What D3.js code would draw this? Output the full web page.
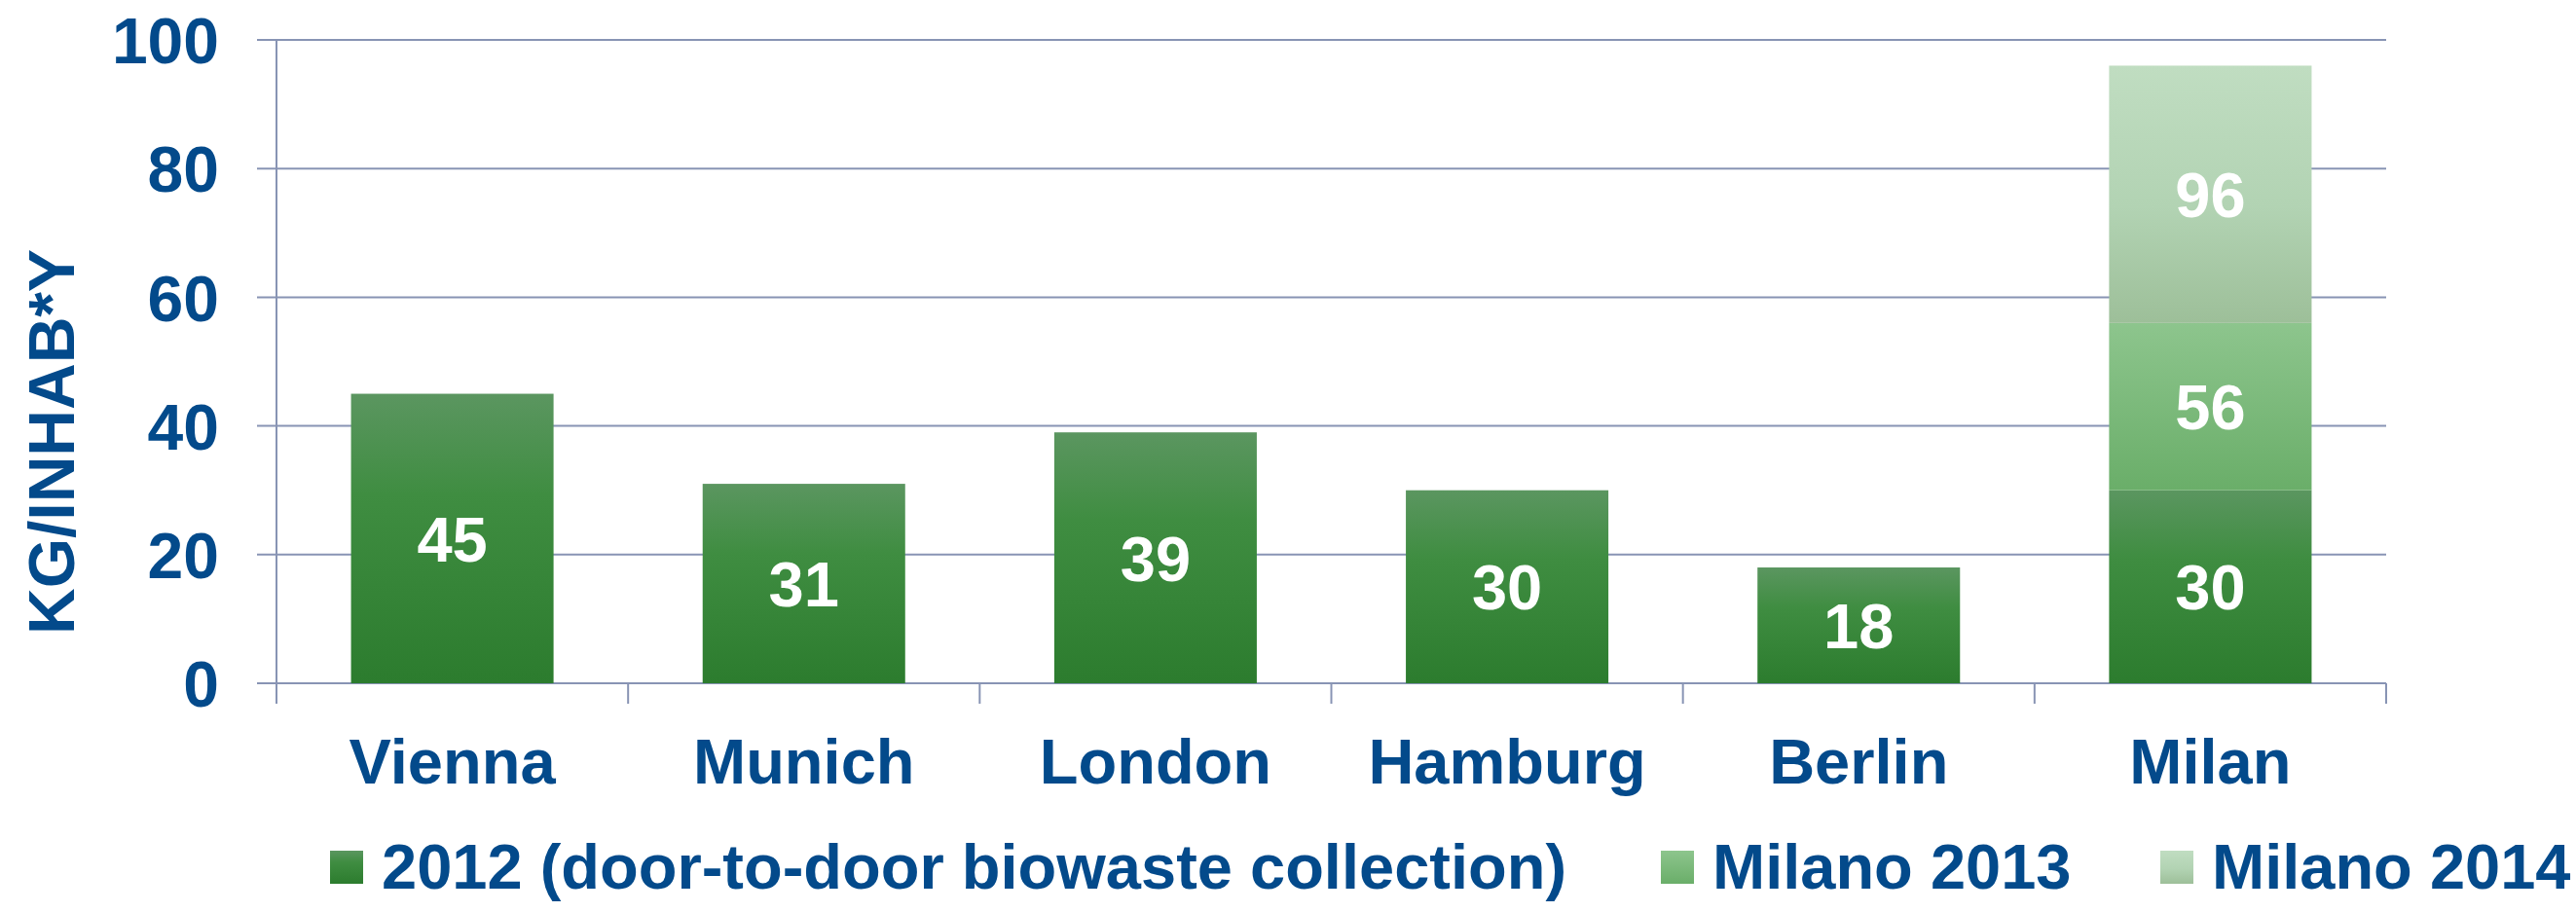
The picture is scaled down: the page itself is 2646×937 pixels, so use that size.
<!DOCTYPE html>
<html>
<head>
<meta charset="utf-8">
<script src="https://cdn.jsdelivr.net/npm/d3@7"></script>
<style>
  html, body { margin: 0; padding: 0; background: #ffffff; }
  svg { display: block; }
  text { font-family: "Liberation Sans", Arial, sans-serif; font-weight: bold; }
</style>
</head>
<body>
<svg id="chart" width="2646" height="937"></svg>
<script>
// Biowaste collected per inhabitant per year (kg)
const categories = ["Vienna", "Munich", "London", "Hamburg", "Berlin", "Milan"];
const series2012 = [45, 31, 39, 30, 18, 30];
const milano2013 = [null, null, null, null, null, 56];   // Milan total in 2013
const milano2014 = [null, null, null, null, null, 96];   // Milan total in 2014
const seriesNames = ["2012 (door-to-door biowaste collection)", "Milano 2013", "Milano 2014"];
const yTicks = [0, 20, 40, 60, 80, 100];
const yTitle = "KG/INHAB*Y";

const W = 2646, H = 937;
const textColor = "#034a8b";
const gridColor = "#8894b4";

const svg = d3.select("#chart");

// gradients per series (lighter at the top of each segment)
const gradStops = [
  [["0%", "#5b9660"], ["35%", "#3f8d41"], ["100%", "#2c7c2e"]],
  [["0%", "#8dc58d"], ["100%", "#6aae69"]],
  [["0%", "#c0ddc1"], ["55%", "#b2d3b3"], ["100%", "#9dbf99"]]
];
const defs = svg.append("defs");
gradStops.forEach((stops, i) => {
  const g = defs.append("linearGradient")
    .attr("id", "grad" + i)
    .attr("x1", 0).attr("y1", 0).attr("x2", 0).attr("y2", 1);
  stops.forEach(s => g.append("stop").attr("offset", s[0]).attr("stop-color", s[1]));
});

const plot = { left: 284, right: 2451, top: 41, bottom: 702 };

const x = d3.scaleBand()
  .domain(categories)
  .range([plot.left, plot.right])
  .paddingInner(0.424)
  .paddingOuter(0.212);

const y = d3.scaleLinear()
  .domain([0, 100])
  .range([plot.bottom, plot.top]);

// horizontal gridlines (extend past the axis as tick marks)
svg.append("g")
  .selectAll("line")
  .data(yTicks)
  .join("line")
  .attr("x1", plot.left - 20)
  .attr("x2", plot.right)
  .attr("y1", d => y(d))
  .attr("y2", d => y(d))
  .attr("stroke", gridColor)
  .attr("stroke-width", 2);

// y axis labels
const yAxis = d3.axisLeft(y).tickValues(yTicks).tickSize(20).tickPadding(39);
const yg = svg.append("g")
  .attr("transform", `translate(${plot.left},0)`)
  .call(yAxis);
yg.select(".domain").remove();
yg.selectAll(".tick line").remove();
yg.selectAll(".tick text")
  .attr("fill", textColor)
  .attr("font-size", 66)
  .attr("font-family", "Liberation Sans, Arial, sans-serif")
  .attr("font-weight", "bold")
  .attr("dy", "0.36em");

// vertical axis line
svg.append("line")
  .attr("x1", plot.left).attr("x2", plot.left)
  .attr("y1", plot.top).attr("y2", plot.bottom + 21)
  .attr("stroke", gridColor).attr("stroke-width", 2);

// category boundary ticks below the baseline
const boundaries = categories.map(c => x(c) - x.step() * x.paddingInner() / 2).slice(1)
  .concat([plot.right]);
svg.append("g")
  .selectAll("line")
  .data(boundaries)
  .join("line")
  .attr("x1", d => d).attr("x2", d => d)
  .attr("y1", plot.bottom).attr("y2", plot.bottom + 21)
  .attr("stroke", gridColor).attr("stroke-width", 2);

// stacked segments: each series value is the running total for that category
const seriesList = [series2012, milano2013, milano2014];
const segments = [];
categories.forEach((c, ci) => {
  let base = 0;
  seriesList.forEach((s, si) => {
    const v = s[ci];
    if (v == null) return;
    segments.push({ cat: c, series: si, y0: base, y1: v, label: v });
    base = v;
  });
});

svg.append("g")
  .selectAll("rect")
  .data(segments)
  .join("rect")
  .attr("x", d => x(d.cat))
  .attr("width", x.bandwidth())
  .attr("y", d => y(d.y1))
  .attr("height", d => y(d.y0) - y(d.y1))
  .attr("fill", d => `url(#grad${d.series})`);

svg.append("g")
  .selectAll("text")
  .data(segments)
  .join("text")
  .attr("x", d => x(d.cat) + x.bandwidth() / 2)
  .attr("y", d => (y(d.y0) + y(d.y1)) / 2)
  .attr("dy", "0.36em")
  .attr("text-anchor", "middle")
  .attr("fill", "#ffffff")
  .attr("font-size", 65)
  .text(d => d.label);

// category labels
svg.append("g")
  .selectAll("text")
  .data(categories)
  .join("text")
  .attr("x", d => x(d) + x.bandwidth() / 2)
  .attr("y", 805)
  .attr("text-anchor", "middle")
  .attr("fill", textColor)
  .attr("font-size", 65)
  .text(d => d);

// y axis title
svg.append("text")
  .attr("transform", "translate(76,454) rotate(-90)")
  .attr("text-anchor", "middle")
  .attr("fill", textColor)
  .attr("font-size", 66)
  .text(yTitle);

// legend
const legendX = [339, 1706, 2219];
const legend = svg.append("g");
seriesNames.forEach((name, i) => {
  legend.append("rect")
    .attr("x", legendX[i]).attr("y", 874)
    .attr("width", 34).attr("height", 34)
    .attr("fill", `url(#grad${i})`);
  legend.append("text")
    .attr("x", legendX[i] + 53)
    .attr("y", 913)
    .attr("fill", textColor)
    .attr("font-size", 65)
    .text(name);
});
</script>
</body>
</html>
